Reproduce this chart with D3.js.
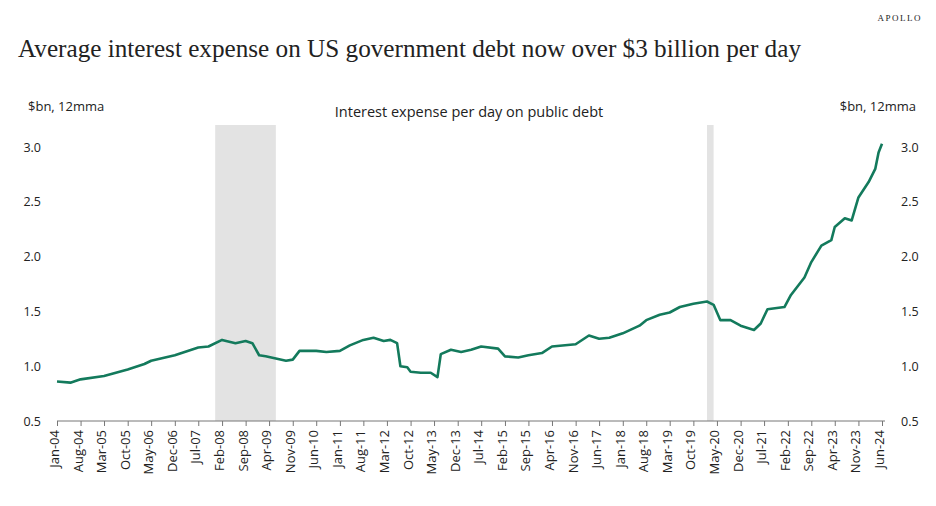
<!DOCTYPE html>
<html>
<head>
<meta charset="utf-8">
<script src="https://cdn.jsdelivr.net/npm/d3@7"></script>
<style>
body { margin: 0; background: #fff; }
text { font-family: "Open Sans", "Noto Sans", sans-serif; fill: #222; }
</style>
</head>
<body>
<svg class="chart" width="936" height="506"></svg>
<script>
// month strings and values (12mma, $bn)
var months = ['2004-01','2004-05','2004-08','2005-03','2005-10','2006-03','2006-05','2006-12','2007-07','2007-10',
  '2008-02','2008-06','2008-09','2008-11','2009-01','2009-03','2009-06','2009-09','2009-11','2010-01','2010-06',
  '2010-09','2011-01','2011-04','2011-08','2011-11','2012-02','2012-04','2012-06','2012-07','2012-09','2012-10',
  '2013-01','2013-04','2013-06','2013-07','2013-10','2014-01','2014-04','2014-07','2014-12','2015-02','2015-06',
  '2015-09','2016-01','2016-04','2016-11','2017-03','2017-06','2017-09','2018-01','2018-06','2018-08','2018-12',
  '2019-03','2019-06','2019-10','2020-02','2020-04','2020-06','2020-09','2020-12','2021-04','2021-06','2021-08',
  '2022-01','2022-03','2022-07','2022-09','2022-12','2023-03','2023-04','2023-07','2023-09','2023-11','2024-02',
  '2024-04','2024-05','2024-06']
var values = [0.86,0.85,0.88,0.91,0.97,1.02,1.05,1.10,1.17,1.18,
  1.24,1.21,1.23,1.21,1.10,1.09,1.07,1.05,1.06,1.14,1.14,
  1.13,1.14,1.19,1.24,1.26,1.23,1.24,1.21,1.00,0.99,0.95,
  0.94,0.94,0.90,1.11,1.15,1.13,1.15,1.18,1.16,1.09,1.08,
  1.10,1.12,1.18,1.20,1.28,1.25,1.26,1.30,1.37,1.42,1.47,
  1.49,1.54,1.57,1.59,1.56,1.42,1.42,1.37,1.33,1.39,1.52,
  1.54,1.65,1.81,1.95,2.10,2.15,2.27,2.35,2.33,2.54,2.68,
  2.80,2.95,3.03]
var recessions = [['2007-12','2009-06'], ['2020-02','2020-04']]
var yTicks = [0.5, 1.0, 1.5, 2.0, 2.5, 3.0]

var parse = d3.timeParse('%Y-%m')
var fmt = d3.timeFormat('%b-%y')

var svg = d3.select('.chart')

svg.append('text').text('APOLLO')
    .attr('x', 922).attr('y', 21).attr('text-anchor', 'end')
    .style('font-family', '"Liberation Serif", serif').style('font-size', '9px').style('letter-spacing', '1.5px')

svg.append('text').text('Average interest expense on US government debt now over $3 billion per day')
    .attr('x', 18).attr('y', 57)
    .attr('textLength', 783).attr('lengthAdjust', 'spacingAndGlyphs')
    .style('font-family', '"Liberation Serif", "DejaVu Serif", serif').style('font-size', '25.5px')

svg.append('text').text('Interest expense per day on public debt')
    .attr('x', 469).attr('y', 117).attr('text-anchor', 'middle').style('font-size', '14.5px')
svg.append('text').text('$bn, 12mma').attr('x', 28).attr('y', 111).style('font-size', '13px')
svg.append('text').text('$bn, 12mma').attr('x', 916).attr('y', 111).attr('text-anchor', 'end').style('font-size', '13px')

var x = d3.scaleTime().domain([parse('2004-01'), parse('2024-06')]).range([57, 882])
var y = d3.scaleLinear().domain([0.5, 3.0]).range([421, 147])

svg.selectAll('.rec').data(recessions).enter().append('rect')
    .attr('x', d => x(parse(d[0])))
    .attr('width', d => x(parse(d[1])) - x(parse(d[0])))
    .attr('y', 125).attr('height', 421 - 125)
    .style('fill', '#e3e3e3')

// y labels both sides
var yl = svg.append('g').attr('transform', 'translate(44,0)')
    .call(d3.axisLeft(y).tickValues(yTicks).tickFormat(d3.format('.1f')).tickSize(0))
var yr = svg.append('g').attr('transform', 'translate(898,0)')
    .call(d3.axisRight(y).tickValues(yTicks).tickFormat(d3.format('.1f')).tickSize(0))
svg.selectAll('.domain').remove()
;[yl, yr].forEach(g => g.selectAll('text').style('font-size', '12.5px').style('font-family', '"Open Sans", sans-serif').attr('fill', '#333'))

var xTicks = d3.range(0, 246, 7).map(i => d3.timeMonth.offset(parse('2004-01'), i))
var xg = svg.append('g').attr('transform', 'translate(0,421)')
    .call(d3.axisBottom(x).tickValues(xTicks).tickFormat(fmt).tickSize(5))
xg.select('.domain').attr('stroke', '#777').attr('d', 'M57,0H885')
xg.selectAll('line').attr('stroke', '#777')
xg.selectAll('text')
    .attr('transform', 'rotate(-90)').attr('x', -9).attr('y', -3).attr('dy', '0.35em')
    .attr('text-anchor', 'end').style('font-size', '13px').attr('fill', '#333')

var line = d3.line().x((d, i) => x(parse(months[i]))).y(d => y(d))
svg.append('path').datum(values)
    .attr('d', line)
    .style('fill', 'none').style('stroke', '#137a5c').style('stroke-width', 2.6)
    .style('stroke-linejoin', 'round')
</script>
</body>
</html>
